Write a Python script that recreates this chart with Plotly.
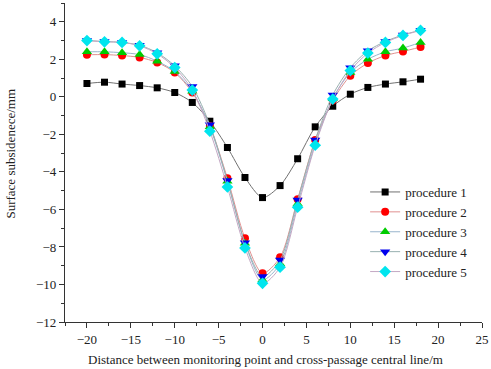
import plotly.graph_objects as go

x = [-20, -18, -16, -14, -12, -10, -8, -6, -4, -2, 0, 2, 4, 6, 8, 10, 12, 14, 16, 18]

p1 = [0.71, 0.78, 0.68, 0.60, 0.48, 0.23, -0.30, -1.30, -2.70, -4.30, -5.37, -4.73, -3.30, -1.60, -0.50, 0.14, 0.50, 0.68, 0.80, 0.94]
p2 = [2.24, 2.25, 2.20, 2.10, 1.83, 1.30, 0.23, -1.55, -4.34, -7.54, -9.40, -8.55, -5.46, -2.30, -0.20, 1.12, 1.80, 2.20, 2.42, 2.65]
p3 = [2.40, 2.40, 2.35, 2.25, 1.90, 1.35, 0.30, -1.60, -4.50, -7.80, -9.75, -8.90, -5.70, -2.50, -0.10, 1.30, 2.00, 2.40, 2.60, 2.90]
p4 = [3.00, 2.95, 2.90, 2.75, 2.35, 1.65, 0.55, -1.49, -4.46, -7.77, -9.58, -8.70, -5.50, -2.30, 0.10, 1.55, 2.45, 2.95, 3.30, 3.55]
p5 = [3.00, 2.93, 2.90, 2.72, 2.29, 1.56, 0.36, -1.83, -4.80, -8.05, -9.94, -9.08, -5.88, -2.58, -0.12, 1.40, 2.33, 2.90, 3.27, 3.54]

names = ["procedure 1", "procedure 2", "procedure 3", "procedure 4", "procedure 5"]
series = [p1, p2, p3, p4, p5]
marker_colors = ["#000000", "#ff0000", "#00cc00", "#0000ee", "#00e5ee"]
line_colors = ["#707070", "#e09090", "#98b4cc", "#98b0b0", "#c4a8c4"]
symbols = ["square", "circle", "triangle-up", "triangle-down", "diamond"]
sizes = [7, 8, 9, 9, 9]

FONT = "Liberation Serif, Times New Roman, serif"

ML, MR, MT, MB = 64.5, 9, 3, 47
W, H = 491, 369
pw = W - ML - MR
ph = H - MT - MB

fig = go.Figure()
for n, y, mc, lc, s, sz in zip(names, series, marker_colors, line_colors, symbols, sizes):
    fig.add_trace(go.Scatter(
        x=x, y=y, name=n, mode="lines+markers",
        line=dict(color=lc, width=1, shape="spline", smoothing=0.8),
        marker=dict(symbol=s, size=sz, color=mc, line=dict(width=0)),
    ))

axis_common = dict(
    showline=True, linecolor="#333", linewidth=1.3,
    ticks="outside", ticklen=5, tickwidth=1.2, tickcolor="#333",
    showgrid=False, zeroline=False,
    tickfont=dict(family=FONT, size=13, color="#222"),
    minor=dict(ticks="outside", ticklen=3, tickwidth=1, tickcolor="#333", showgrid=False),
)

fig.update_xaxes(range=[-22.5, 25], tickvals=[-20, -15, -10, -5, 0, 5, 10, 15, 20, 25],
                 minor_dtick=2.5, minor_tick0=0, **axis_common)
fig.update_yaxes(range=[-12, 5], tickvals=[-12, -10, -8, -6, -4, -2, 0, 2, 4],
                 minor_dtick=1, minor_tick0=0, **axis_common)

fig.update_layout(
    width=W, height=H,
    margin=dict(l=ML, r=MR, t=MT, b=MB),
    plot_bgcolor="white", paper_bgcolor="white",
    font=dict(family=FONT, size=13, color="#222"),
    legend=dict(x=(365 - ML) / pw, y=(H - MB - 177) / ph, xanchor="left", yanchor="top",
                bgcolor="rgba(0,0,0,0)", font=dict(family=FONT, size=13, color="#222"),
                tracegroupgap=0, itemwidth=30),
    annotations=[
        dict(text="Distance between monitoring point and cross-passage central line/m",
             x=(265 - ML) / pw, y=(H - MB - 359) / ph, xref="paper", yref="paper",
             xanchor="center", yanchor="middle", showarrow=False,
             font=dict(family=FONT, size=13, color="#222")),
        dict(text="Surface subsidenece/mm", textangle=-90,
             x=(9 - ML) / pw, y=(H - MB - 154) / ph, xref="paper", yref="paper",
             xanchor="center", yanchor="middle", showarrow=False,
             font=dict(family=FONT, size=13, color="#222")),
    ],
)

fig.write_html("out.html", config={"displayModeBar": False},
               post_script="document.body.style.margin='0';document.body.style.overflow='hidden';")
